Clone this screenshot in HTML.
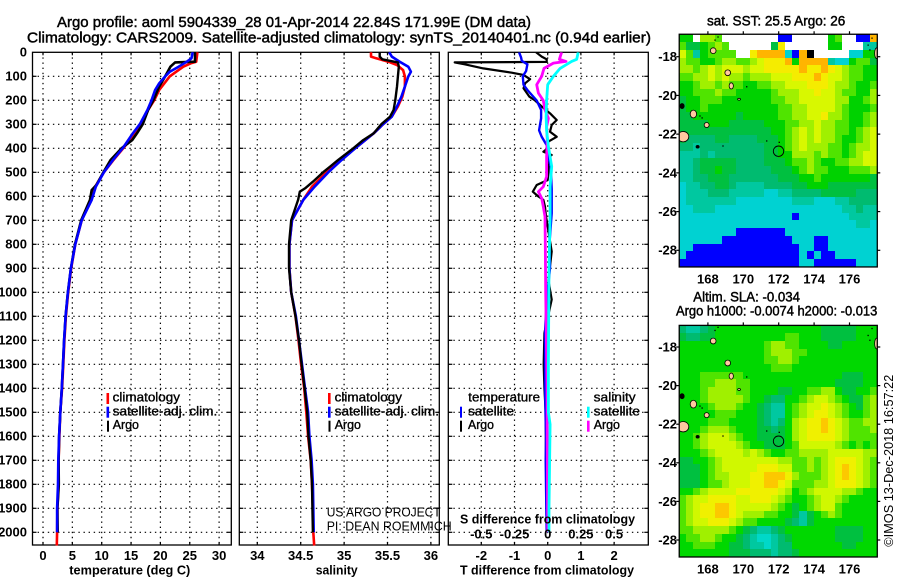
<!DOCTYPE html>
<html lang="en">
<head>
<meta charset="utf-8">
<title>Argo profile 5904339_28</title>
<style>
html,body{margin:0;padding:0;background:#fff;}
svg{display:block;}
text{font-family:"Liberation Sans",sans-serif;fill:#000;}
.title{font-size:14.5px;stroke:#000;stroke-width:.45px;}
.tick{font-size:13px;font-weight:bold;}
.label{font-size:13px;font-weight:bold;}
.legend{font-size:12.5px;stroke:#000;stroke-width:.35px;}
.credit{font-size:13px;}
</style>
</head>
<body>
<svg id="chart" xmlns="http://www.w3.org/2000/svg" width="900" height="580" viewBox="0 0 900 580">
<defs>
<clipPath id="clip-sst"><rect x="679.3" y="34.3" width="198" height="232.7"/></clipPath>
<clipPath id="clip-sla"><rect x="679.3" y="325.3" width="198" height="231.7"/></clipPath>
<clipPath id="clip-diff"><rect x="448.3" y="52.3" width="200" height="492.7"/></clipPath>
</defs>
<rect x="0" y="0" width="900" height="580" fill="#fff"/>

<g id="layer-grid"></g>
<g id="layer-series"></g>
<g id="layer-maps"></g>
<g id="layer-ticks"></g>

<text class="title" x="57" y="27" textLength="474" lengthAdjust="spacingAndGlyphs">Argo profile: aoml 5904339_28 01-Apr-2014 22.84S 171.99E (DM data)</text>
<text class="title" x="27" y="42.7" textLength="624" lengthAdjust="spacingAndGlyphs">Climatology: CARS2009. Satellite-adjusted climatology: synTS_20140401.nc (0.94d earlier)</text>

<text class="label" x="69.3" y="574.3" textLength="121" lengthAdjust="spacingAndGlyphs">temperature (deg C)</text>
<text class="label" x="315.7" y="574.3" textLength="42" lengthAdjust="spacingAndGlyphs">salinity</text>
<text class="label" x="460" y="574.3" textLength="174" lengthAdjust="spacingAndGlyphs">T difference from climatology</text>
<text class="label" x="460" y="523.3" textLength="175" lengthAdjust="spacingAndGlyphs">S difference from climatology</text>

<g>
<rect x="106.5" y="393" width="2.6" height="11" fill="#f00"/>
<text class="legend" x="112.7" y="401.7" textLength="67.3" lengthAdjust="spacingAndGlyphs">climatology</text>
<rect x="106.5" y="406.7" width="2.6" height="11" fill="#00f"/>
<text class="legend" x="112.7" y="415.7" textLength="104.6" lengthAdjust="spacingAndGlyphs">satellite-adj. clim.</text>
<rect x="107" y="420.7" width="2" height="11" fill="#000"/>
<text class="legend" x="112.7" y="429" textLength="26.3" lengthAdjust="spacingAndGlyphs">Argo</text>
</g>

<g>
<rect x="328" y="393" width="2.6" height="11" fill="#f00"/>
<text class="legend" x="334.7" y="401.7" textLength="67.3" lengthAdjust="spacingAndGlyphs">climatology</text>
<rect x="328" y="406.7" width="2.6" height="11" fill="#00f"/>
<text class="legend" x="334.7" y="415.7" textLength="104.3" lengthAdjust="spacingAndGlyphs">satellite-adj. clim.</text>
<rect x="328.5" y="420.7" width="2" height="11" fill="#000"/>
<text class="legend" x="334.7" y="429" textLength="26.3" lengthAdjust="spacingAndGlyphs">Argo</text>
</g>

<g>
<text class="legend" x="468.3" y="401.7" textLength="71.7" lengthAdjust="spacingAndGlyphs">temperature</text>
<rect x="460" y="406.7" width="2" height="11" fill="#00f"/>
<text class="legend" x="468" y="415.7" textLength="46" lengthAdjust="spacingAndGlyphs">satellite</text>
<rect x="460" y="420.7" width="2" height="11" fill="#000"/>
<text class="legend" x="468" y="429" textLength="26" lengthAdjust="spacingAndGlyphs">Argo</text>
<text class="legend" x="593.7" y="401.7" textLength="42" lengthAdjust="spacingAndGlyphs">salinity</text>
<rect x="587" y="406.7" width="2.6" height="11" fill="#0ff"/>
<text class="legend" x="593.7" y="415.7" textLength="46.3" lengthAdjust="spacingAndGlyphs">satellite</text>
<rect x="587" y="420.7" width="2.6" height="11" fill="#f0f"/>
<text class="legend" x="593.7" y="429" textLength="26.3" lengthAdjust="spacingAndGlyphs">Argo</text>
</g>

<text class="credit" x="326.7" y="516.7" textLength="114" lengthAdjust="spacingAndGlyphs">US ARGO PROJECT</text>
<text class="credit" x="326.7" y="530.7" textLength="125" lengthAdjust="spacingAndGlyphs">PI: DEAN ROEMMICH</text>

<text class="title" x="707" y="25.3" style="font-size:13.5px" textLength="138.3" lengthAdjust="spacingAndGlyphs">sat. SST: 25.5 Argo: 26</text>
<text class="title" x="693.3" y="301.7" style="font-size:13.5px" textLength="106.7" lengthAdjust="spacingAndGlyphs">Altim. SLA: -0.034</text>
<text class="title" x="676" y="315.7" style="font-size:13.5px" textLength="201.3" lengthAdjust="spacingAndGlyphs">Argo h1000: -0.0074 h2000: -0.013</text>
<text class="credit" transform="translate(893 546.7) rotate(-90)" x="0" y="0" textLength="172" lengthAdjust="spacingAndGlyphs">©IMOS 13-Dec-2018 16:57:22</text>
</svg>

<script>
// ---- shared axis data
const depthTicks = [0,100,200,300,400,500,600,700,800,900,1000,1100,1200,1300,1400,1500,1600,1700,1800,1900,2000];
const tempTicks = [0,5,10,15,20,25,30];
const salTicks = [34,34.5,35,35.5,36];
const salTickLabels = ['34','34.5','35','35.5','36'];
const tDiffTicks = [-2,-1,0,1,2];
const sDiffTicks = [-0.5,-0.25,0,0.25,0.5];
const sDiffLabels = ['-0.5','-0.25','0','0.25','0.5'];
const lonTicks = [168,170,172,174,176];
const latTicks = [-18,-20,-22,-24,-26,-28];

// ---- temperature profiles
const tempClimDepth = [0,39,46,60,100,157,199,240,299,338,399,449,499,560,615,700,800,900,1000,1100,1200,1300,1400,1500,1600,1700,1800,1900,2000,2055];
const tempClim = [26.3,26.1,25.2,23.9,21.6,19.8,18.96,17.9,16.8,15.7,13.7,12,10.4,8.9,8.1,6.6,5.5,4.8,4.3,3.9,3.65,3.45,3.25,2.95,2.8,2.65,2.65,2.45,2.4,2.35];
const tempSatDepth = [0,25,39,60,81,101,129,157,199,240,299,338,399,449,499,560,615,700,800,900,1000,1100,1200,1300,1400,1500,1600,1700,1800,1900,2000];
const tempSat = [25.5,25.3,24.5,23.1,21.6,20.8,19.8,19.1,18.5,17.8,16.5,15.3,13.6,11.9,10.4,9,8.3,6.6,5.5,4.75,4.25,3.85,3.6,3.4,3.2,2.95,2.75,2.6,2.55,2.4,2.4];
const tempArgoDepth = [0,39,42,60,101,143,199,240,299,338,366,399,449,499,553,574,615,700,800,900,1000,1100,1200,1300,1400,1500,1600,1700,1800,1900,2000];
const tempArgo = [25.9,25.9,22.5,21.7,20.8,19.8,18.8,17.9,17,16,15.2,13.4,11.5,10.3,9.1,8.3,8,6.5,5.45,4.75,4.25,3.85,3.6,3.4,3.2,2.95,2.75,2.65,2.7,2.45,2.5];

// ---- salinity profiles
const salClimDepth = [0,18,25,39,53,74,101,143,185,226,268,299,338,399,449,499,560,615,700,800,900,1000,1100,1200,1300,1400,1500,1600,1700,1800,1900,2000,2055];
const salClim = [35.31,35.31,35.37,35.51,35.61,35.68,35.7,35.7,35.67,35.62,35.55,35.45,35.34,35.13,34.95,34.8,34.63,34.53,34.4,34.37,34.37,34.39,34.44,34.475,34.505,34.54,34.565,34.585,34.615,34.63,34.64,34.645,34.655];
const salSatDepth = [0,18,39,60,81,101,143,185,226,268,299,338,399,449,499,560,615,700,800,900,1000,1100,1200,1300,1400,1500,1600,1700,1800,1900,2000];
const salSat = [35.52,35.55,35.64,35.74,35.77,35.74,35.7,35.66,35.61,35.55,35.45,35.34,35.13,34.97,34.82,34.66,34.53,34.4,34.37,34.37,34.39,34.445,34.48,34.515,34.55,34.585,34.6,34.625,34.64,34.645,34.65];
const salArgoDepth = [0,18,29,42,60,101,143,199,240,268,299,338,366,399,449,476,499,539,567,581,615,700,800,900,1000,1100,1200,1300,1400,1500,1600,1700,1800,1900,2000];
const salArgo = [35.41,35.41,35.44,35.62,35.63,35.62,35.61,35.59,35.57,35.53,35.43,35.34,35.22,35.11,34.93,34.84,34.76,34.64,34.55,34.49,34.47,34.39,34.365,34.365,34.39,34.44,34.48,34.51,34.545,34.575,34.59,34.615,34.63,34.635,34.64];

// ---- difference profiles
const tDiffArgoDepth = [0,18,29,40,42,50,67,85,94,112,129,150,185,201,226,254,282,303,331,352,372,400,414,428,442,476,500,532,553,581,601,615,643,685,700,830,950,1030,1170,1300,1400,1500,1700,2000];
const tDiffArgo = [-0.35,-0.18,-0.03,-0.03,-2.8,-2.5,-1.94,-1.08,-0.73,-0.53,-0.68,-0.73,-0.55,-0.38,-0.18,0.07,0.27,0.12,0.07,0.27,0.02,0,-0.13,0.12,-0.03,0.02,0.02,0,-0.33,-0.45,-0.28,-0.13,-0.08,-0.05,-0.03,0.12,0.02,0.12,-0.1,-0.12,-0.1,-0.06,-0.05,-0.03];
const tDiffSatDepth = [0,22,36,50,78,100,135,157,201,240,275,325,352,387,435,476,570,670,800,900,1030,1170,1400,1600,1700,1800,2000];
const tDiffSat = [-0.86,-0.8,-0.78,-0.61,-0.65,-0.75,-0.73,-0.61,-0.33,-0.2,-0.2,-0.26,-0.18,-0.03,0.02,0.09,0.12,0.12,0.05,0.07,-0.03,-0.08,-0.08,-0.05,-0.06,-0.05,-0.03];
const sDiffArgoDepth = [0,29,38,45,67,100,135,170,201,240,275,310,365,435,476,518,560,581,608,643,685,800,1000,1200,1400,2000];
const sDiffArgo = [0.105,0.088,0.138,0.043,-0.028,-0.045,-0.083,-0.07,-0.033,-0.02,0.005,-0.008,-0.003,-0.008,-0.008,-0.008,-0.033,-0.07,-0.045,-0.033,-0.02,-0.018,-0.015,-0.01,-0.005,0];
const sDiffSatDepth = [0,29,38,67,100,135,201,268,325,393,476,560,685,900,1300,1500,1550,1900,2000];
const sDiffSat = [0.23,0.218,0.18,0.093,0.043,0,-0.008,-0.012,-0.008,0.005,0.03,0.018,0.018,0.01,0.005,0.005,0.018,0.01,0.01];

// ---- heatmap values, one character per cell (0.4 x 0.4 degree bins)
const sstRows = [
"44w665"+"wwwwwwww"+"bb"+"wwwww"+"45"+"ww"+"bb"+"9",
"5334565wwwwww38wwwwww44www11",
"75145555ww89999" + "0b9kwwwww00" + "44",
"65544566"+"55"+"67888"+"9"+"4"+"9999"+"1"+"00"+"4553",
"6656767776"+"7788888"+"9889"+"8765544",
"5566767665"+"6667778"+"8898"+"7765544",
"4456656554"+"4556677"+"7888"+"7665445",
"4455565544"+"4445666"+"7787"+"7655446",
"3445554444"+"4445566"+"7777"+"7664456",
"3445444444"+"4444556"+"6777"+"7654445",
"3344444434"+"4444556"+"6778"+"6654456",
"3333444333"+"3344455"+"6676"+"6554456",
"3333333333"+"3334456"+"7676"+"6554567",
"3222233222"+"2333456"+"7676"+"6544567",
"2212222222"+"2233456"+"7666"+"5545667",
"1112122222"+"2233446"+"6656"+"5545677",
"1123333322"+"2233345"+"5654"+"4556677",
"1123343322"+"2223334"+"5655"+"4445556",
"1122333222"+"2222333"+"4454"+"4444443",
"0112233211"+"1122223"+"3444"+"3333333",
"0111222111"+"1100112"+"2223"+"3333222",
"0111111100"+"0000001"+"1100"+"0112222",
"0011100000"+"0000000"+"0000"+"0011211",
"0000000000"+"000000b"+"0000"+"0001111",
"0000000000"+"0000000"+"0000"+"0000110",
"00000000bbbbbbb0000000000000",
"000000bbbbbbbbbb000bb0000000",
"00bbbbbbbbbbbbbbb00bb0000000",
"0bbbbbbbbbbbbbbbb0b0bb000000",
"bbbbbbbbbbbbbbbbb00bbbbbb000"
];
const slaRows = [
"2112344444"+"444444444"+"433333444",
"3223344444"+"444445544"+"433333444",
"4444444444"+"445665544"+"443344444",
"4444444444"+"445666554"+"444444444",
"4444444444"+"445566544"+"444444444",
"4444444444"+"444555444"+"444444444",
"4445555554"+"444444444"+"444433344",
"4445566655"+"444444444"+"444333344",
"4445666655"+"444433445"+"566433445",
"4445666665"+"443224456"+"776543356",
"4444566654"+"432114567"+"787654356",
"4444455544"+"432114567"+"887654456",
"4444555444"+"432124678"+"898765566",
"4445666544"+"433234678"+"898765556",
"4456777654"+"433334678"+"888765555",
"4456777765"+"443334577"+"777654545",
"4445677776"+"765445566"+"667777766",
"3344567777"+"777766556"+"567888765",
"3334567777"+"788877556"+"567898765",
"3334566777"+"889998655"+"567898765",
"3334556777"+"889987555"+"667888765",
"4456777788"+"888876456"+"777766544",
"5677888877"+"888765445"+"677654444",
"5678899877"+"777654345"+"677544444",
"5678899876"+"665544313"+"456544444",
"5677888765"+"544443213"+"444444444",
"5566666543"+"211234444"+"444333344",
"4556654432"+"100123444"+"444333344",
"4455544332"+"110122444"+"444433444",
"4444444333"+"222122344"+"444444444"
];

// ---- land and profile location
const islandLon = [168.3,169.12,169.32,169.76,166.54,167.18,167.93,166.6,167.42,177.54];
const islandLat = [-17.69,-18.83,-19.51,-20.2,-20.55,-20.96,-21.53,-22.13,-22.65,-17.82];
const islandRadiusLon = [0.16,0.16,0.12,0.08,0.12,0.18,0.14,0.32,0.09,0.12];
const islandRadiusLat = [0.15,0.15,0.16,0.05,0.13,0.2,0.13,0.27,0.07,0.28];
const reefLon = [168.4,168.57,167.67,167.55,170.19,168.85,171.32,172.03,177.05,177.15,177.27];
const reefLat = [-17.14,-16.98,-21.16,-21.06,-19.55,-22.61,-22.35,-22.42,-17.4,-17.65,-17.04];
const argoLon = 171.99;
const argoLat = -22.84;

const NS = 'http://www.w3.org/2000/svg';
const gridLayer = document.getElementById('layer-grid');
const seriesLayer = document.getElementById('layer-series');
const mapLayer = document.getElementById('layer-maps');
const tickLayer = document.getElementById('layer-ticks');

// axis functions
const yDepth = d => 52.3 + 0.24 * d;
const xTemp = t => 43 + 5.87 * t;
const xSal = s => 257.3 + 86.8 * (s - 34);
const xTDiff = t => 547.7 + 33.2 * t;
const xSDiff = s => 547.7 + 132.8 * s;
const xLon = lon => 778.7 + 17.7 * (lon - 172);
const ySst = lat => 56.7 + 19.36 * (-18 - lat);
const ySla = lat => 347 + 19.3 * (-18 - lat);

function svgEl(tag, attrs) {
  const el = document.createElementNS(NS, tag);
  for (const k in attrs) el.setAttribute(k, attrs[k]);
  return el;
}

function addLine(parent, x1, y1, x2, y2, name, dotted) {
  const attrs = {x1: x1, y1: y1, x2: x2, y2: y2, stroke: '#000', 'stroke-width': 1.2};
  if (dotted) attrs['stroke-dasharray'] = '1.4 3.7';
  const el = svgEl('line', attrs);
  
  
  parent.appendChild(el);
}

function addLabel(x, y, str, anchor, name) {
  const el = svgEl('text', {x: x, y: y, 'text-anchor': anchor});
  el.setAttribute('class', 'tick');
  
  
  el.textContent = str;
  tickLayer.appendChild(el);
}

function drawPanel(left, right, xPositions, name) {
  const top = 52.3, bottom = 545;
  depthTicks.forEach(d => {
    if (d === 0) return;
    const y = yDepth(d);
    addLine(gridLayer, left, y, right, y, name + '-depth-gridline', true);
    addLine(gridLayer, left, y, left + 4, y, name + '-depth-tick', false);
    addLine(gridLayer, right - 4, y, right, y, name + '-depth-tick', false);
  });
  xPositions.forEach(x => {
    addLine(gridLayer, x, top, x, bottom, name + '-x-gridline', true);
    addLine(gridLayer, x, top, x, top + 3, name + '-x-tick', false);
    addLine(gridLayer, x, bottom - 3, x, bottom, name + '-x-tick', false);
  });
  const frame = svgEl('rect', {x: left, y: top, width: right - left, height: bottom - top, fill: 'none', stroke: '#000', 'stroke-width': 1.3});
  
  
  gridLayer.appendChild(frame);
}

function drawSeries(depths, values, xFn, colour, width, name, clip) {
  const pts = depths.map((d, i) => xFn(values[i]).toFixed(1) + ',' + yDepth(d).toFixed(1)).join(' ');
  const el = svgEl('polyline', {points: pts, fill: 'none', stroke: colour, 'stroke-width': width, 'stroke-linejoin': 'round'});
  if (clip) el.setAttribute('clip-path', 'url(#' + clip + ')');
  
  
  seriesLayer.appendChild(el);
}

drawPanel(32.5, 231.3, tempTicks.map(xTemp), 'temperature-panel');
drawPanel(239.3, 439.3, salTicks.map(xSal), 'salinity-panel');
drawPanel(448.3, 648.3, tDiffTicks.map(xTDiff), 'difference-panel');

drawSeries(tempClimDepth, tempClim, xTemp, '#f00', 2.6, 'temperature-climatology-line');
drawSeries(tempArgoDepth, tempArgo, xTemp, '#000', 2.6, 'temperature-argo-line');
drawSeries(tempSatDepth, tempSat, xTemp, '#00f', 2.6, 'temperature-satellite-line');

drawSeries(salClimDepth, salClim, xSal, '#f00', 2.6, 'salinity-climatology-line');
drawSeries(salSatDepth, salSat, xSal, '#00f', 2.6, 'salinity-satellite-line');
drawSeries(salArgoDepth, salArgo, xSal, '#000', 2.4, 'salinity-argo-line');

drawSeries(tDiffArgoDepth, tDiffArgo, xTDiff, '#000', 2.2, 't-difference-argo-line', 'clip-diff');
drawSeries(tDiffSatDepth, tDiffSat, xTDiff, '#00f', 2.4, 't-difference-satellite-line', 'clip-diff');
drawSeries(sDiffArgoDepth, sDiffArgo, xSDiff, '#f0f', 2.8, 's-difference-argo-line', 'clip-diff');
drawSeries(sDiffSatDepth, sDiffSat, xSDiff, '#0ff', 2.8, 's-difference-satellite-line', 'clip-diff');

// tick labels
depthTicks.forEach(d => addLabel(27, yDepth(d) + 4.4, String(d), 'end', 'depth-tick-label'));
tempTicks.forEach(t => addLabel(xTemp(t), 560, String(t), 'middle', 'temperature-tick-label'));
salTicks.forEach((s, i) => addLabel(xSal(s), 560, salTickLabels[i], 'middle', 'salinity-tick-label'));
tDiffTicks.forEach(t => addLabel(xTDiff(t), 560, String(t), 'middle', 't-difference-tick-label'));
sDiffTicks.forEach((s, i) => addLabel(xSDiff(s), 538.3, sDiffLabels[i], 'middle', 's-difference-tick-label'));

// maps
const sstPalette = {w:'#ffffff',k:'#000000',b:'#0000ff','0':'#00d2d2','1':'#00c8a0','2':'#00bb70','3':'#00c040','4':'#00d200','5':'#50e400','6':'#a0f000','7':'#d8f800','8':'#f5ec00','9':'#ffb400'};
const slaPalette = {'0':'#00d8c8','1':'#00c8a0','2':'#00bb70','3':'#00c040','4':'#00d800','5':'#50e400','6':'#a0f000','7':'#d0f800','8':'#f0f000','9':'#fcc800'};

function drawMap(rows, palette, yFn, lonMin, lonMax, latTop, latBottom, clipId, name) {
  const group = svgEl('g', {'clip-path': 'url(#' + clipId + ')'});
  
  
  mapLayer.appendChild(group);
  const nRows = rows.length;
  rows.forEach((row, r) => {
    const lat0 = latTop + (latBottom - latTop) * r / nRows;
    const lat1 = latTop + (latBottom - latTop) * (r + 1) / nRows;
    for (let c = 0; c < row.length; c++) {
      const lon0 = lonMin + (lonMax - lonMin) * c / row.length;
      const lon1 = lonMin + (lonMax - lonMin) * (c + 1) / row.length;
      const x0 = Math.round(xLon(lon0)), x1 = Math.round(xLon(lon1));
      const y0 = Math.round(yFn(lat0)), y1 = Math.round(yFn(lat1));
      const cell = svgEl('rect', {x: x0, y: y0, width: x1 - x0, height: y1 - y0, fill: palette[row[c]], 'shape-rendering': 'crispEdges'});
      
      
      group.appendChild(cell);
    }
  });
  islandLon.forEach((lon, i) => {
    const blackIsland = i === 4 || i === 8;
    const isle = svgEl('ellipse', {
      cx: xLon(lon), cy: yFn(islandLat[i]),
      rx: islandRadiusLon[i] * 17.7, ry: islandRadiusLat[i] * 19.36,
      fill: blackIsland ? '#000' : '#ffc8a0', stroke: '#000', 'stroke-width': 0.8
    });
    
    
    group.appendChild(isle);
  });
  reefLon.forEach((lon, i) => {
    const reef = svgEl('rect', {x: xLon(lon) - 0.6, y: yFn(reefLat[i]) - 0.6, width: 1.3, height: 1.3, fill: '#000'});
    
    
    group.appendChild(reef);
  });
  const marker = svgEl('circle', {cx: xLon(argoLon), cy: yFn(argoLat) + 0.8, r: 5.2, fill: 'none', stroke: '#000', 'stroke-width': 0.9});
  
  
  group.appendChild(marker);

  const top = yFn(latTop), bottom = yFn(latBottom), left = xLon(lonMin), right = xLon(lonMax);
  const frame = svgEl('rect', {x: left, y: top, width: right - left, height: bottom - top, fill: 'none', stroke: '#000', 'stroke-width': 1.3});
  
  
  mapLayer.appendChild(frame);

  lonTicks.forEach(lon => {
    addLine(mapLayer, xLon(lon), top - 3, xLon(lon), top, name + '-longitude-tick', false);
    addLabel(xLon(lon), bottom + 16.5, String(lon), 'middle', name + '-longitude-label');
  });
  latTicks.forEach(lat => {
    addLine(mapLayer, left - 3, yFn(lat), left, yFn(lat), name + '-latitude-tick', false);
    addLine(mapLayer, right, yFn(lat), right + 3, yFn(lat), name + '-latitude-tick', false);
    addLabel(677, yFn(lat) + 4.4, String(lat), 'end', name + '-latitude-label');
  });
}

drawMap(sstRows, sstPalette, ySst, 166.38, 177.57, -16.84, -28.86, 'clip-sst', 'sst');
drawMap(slaRows, slaPalette, ySla, 166.38, 177.57, -16.88, -28.88, 'clip-sla', 'sla');
</script>
</body>
</html>
